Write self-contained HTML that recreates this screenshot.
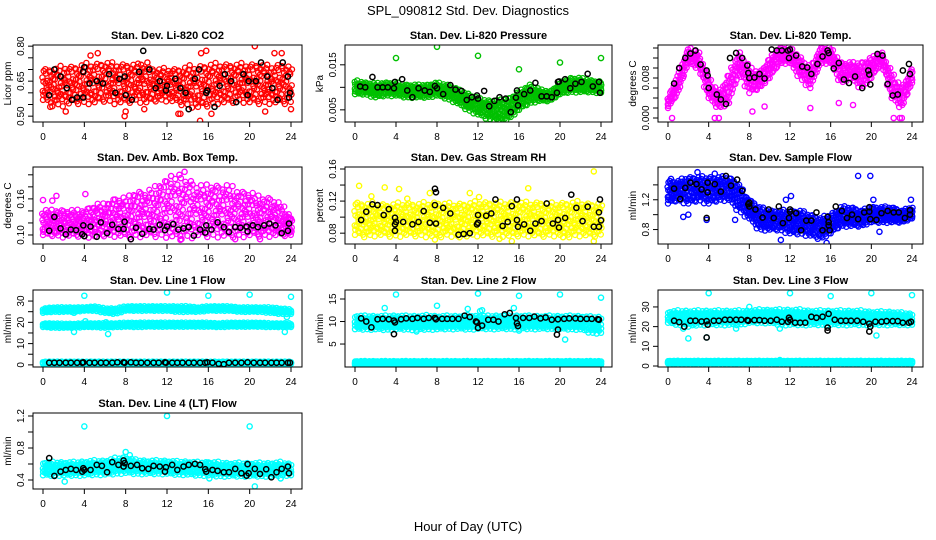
<!DOCTYPE html>
<html><head><meta charset="utf-8">
<style>
html,body{margin:0;padding:0;background:#fff;}
svg{display:block;font-family:"Liberation Sans",sans-serif;}
</style></head>
<body>
<svg id="chart" width="936" height="540" viewBox="0 0 936 540">
<rect width="936" height="540" fill="#fff"/>
<text x="468" y="15" text-anchor="middle" font-size="13">SPL_090812  Std. Dev. Diagnostics</text>
<text x="468" y="531" text-anchor="middle" font-size="13">Hour of Day (UTC)</text>
</svg>
<script>
const H=[0,1,2,3,4,5,6,7,8,9,10,11,12,13,14,15,16,17,18,19,20,21,22,23,24];
const xTicks=[0,4,8,12,16,20,24];

const co2Lo=[0.57,0.55,0.55,0.56,0.56,0.56,0.57,0.56,0.56,0.57,0.56,0.57,0.57,0.56,0.55,0.54,0.55,0.56,0.56,0.57,0.56,0.56,0.56,0.56,0.56];
const co2Hi=[0.70,0.70,0.71,0.71,0.72,0.72,0.73,0.72,0.72,0.72,0.71,0.70,0.70,0.70,0.71,0.71,0.72,0.72,0.72,0.72,0.72,0.72,0.71,0.72,0.71];
const co2Out=[[4.6,0.76],[5.3,0.77],[9.5,0.72],[10.1,0.73],[15.3,0.77],[15.8,0.78],[20.5,0.80],[22.4,0.77],[23.1,0.77],[7.9,0.50],[15.2,0.48],[13.3,0.51],[8,0.52],[9.8,0.53],[21.5,0.52],[24,0.53],[2.2,0.52],[0.7,0.54],[16.3,0.51],[13.1,0.51]];
const co2Black=[[0.6,0.59],[1.1,0.70],[1.7,0.67],[2.3,0.62],[2.8,0.57],[3.3,0.58],[3.9,0.58],[4.0,0.71],[3.9,0.69],[4.5,0.64],[5.2,0.65],[5.8,0.64],[6.4,0.68],[7.0,0.60],[7.4,0.66],[7.9,0.67],[8,0.59],[8.6,0.57],[9.3,0.69],[9.7,0.78],[10.3,0.70],[10.9,0.62],[11.3,0.65],[11.9,0.61],[12,0.63],[12.8,0.66],[13.3,0.62],[13.8,0.60],[14.1,0.53],[14.7,0.66],[15.1,0.70],[15.8,0.60],[15.9,0.61],[16.6,0.54],[17.1,0.63],[17.6,0.68],[18.2,0.65],[18.7,0.56],[19.4,0.68],[19.8,0.59],[19.9,0.65],[20.6,0.65],[21.1,0.73],[21.7,0.67],[22.2,0.62],[22.7,0.57],[23.2,0.73],[23.7,0.67],[23.8,0.58],[23.9,0.60]];

const presLo=[0.0085,0.0085,0.0078,0.0082,0.0082,0.0078,0.0078,0.0078,0.0082,0.0075,0.0065,0.0050,0.0040,0.0030,0.0025,0.0030,0.0050,0.0065,0.0070,0.0070,0.0085,0.0090,0.0090,0.0090,0.0088];
const presHi=[0.0115,0.0110,0.0108,0.0110,0.0110,0.0105,0.0105,0.0105,0.0110,0.0105,0.0095,0.0085,0.0075,0.0070,0.0070,0.0075,0.0090,0.0105,0.0095,0.0090,0.0110,0.0120,0.0120,0.0115,0.0112];
const presOut=[[4,0.0165],[8,0.019],[12,0.017],[16,0.014],[20,0.0155],[24,0.0165]];
const presBlack=[[0.5,0.0102],[1,0.0100],[1.7,0.0123],[2.2,0.0100],[2.7,0.0100],[3.2,0.0100],[3.8,0.0098],[3.9,0.0112],[4.6,0.0118],[5.1,0.0093],[5.6,0.0078],[6.2,0.0098],[6.8,0.0093],[7.3,0.0090],[7.8,0.0103],[8,0.0098],[8.6,0.0085],[9.3,0.0105],[9.8,0.0095],[10.4,0.0092],[10.9,0.0072],[11.4,0.0078],[11.9,0.0082],[12,0.0075],[12.6,0.0092],[13.1,0.0058],[13.6,0.0070],[14.1,0.0078],[14.7,0.0075],[15.2,0.0045],[15.7,0.0077],[15.8,0.0093],[15.9,0.0060],[16.5,0.0085],[17.1,0.0093],[17.6,0.0110],[18.2,0.0080],[18.7,0.0080],[19.2,0.0078],[19.7,0.0088],[19.8,0.0112],[19.9,0.0113],[20.5,0.0118],[21,0.0098],[21.5,0.0108],[22.1,0.0112],[22.7,0.0130],[23.2,0.0102],[23.8,0.0112],[23.9,0.0088]];

const tempLo=[0.002,0.005,0.011,0.010,0.004,0.002,0.003,0.009,0.005,0.006,0.008,0.011,0.011,0.008,0.006,0.011,0.011,0.007,0.008,0.006,0.008,0.011,0.004,0.002,0.007];
const tempHi=[0.004,0.009,0.014,0.013,0.008,0.005,0.009,0.013,0.010,0.009,0.012,0.014,0.014,0.012,0.010,0.014,0.014,0.011,0.011,0.011,0.012,0.013,0.009,0.006,0.010];
const tempOut=[[0.4,0],[4.6,0],[5.0,0],[22.2,0],[22.8,0],[23,0],[8.3,0.0013],[9.5,0.0023],[14,0.002],[16.8,0.003],[18.2,0.0026]];
const tempBlack=[[0.6,0.0069],[1.1,0.0100],[1.7,0.012],[2.2,0.0129],[2.7,0.0135],[3.2,0.0107],[3.8,0.0095],[3.9,0.0085],[4,0.006],[4.8,0.0047],[5.2,0.0037],[5.7,0.0028],[6.1,0.012],[6.7,0.013],[7.3,0.012],[7.8,0.0105],[7.9,0.009],[8,0.008],[8.5,0.0081],[9,0.0088],[9.5,0.0079],[10.2,0.0137],[10.7,0.0135],[11.2,0.0135],[11.8,0.0135],[11.9,0.012],[12,0.0137],[12.6,0.0125],[13.2,0.0103],[13.7,0.0101],[14.1,0.0088],[14.7,0.0108],[15.2,0.0123],[15.7,0.0135],[15.8,0.013],[16.3,0.0099],[16.8,0.011],[17.3,0.0077],[17.8,0.007],[18.4,0.0083],[19.1,0.006],[19.7,0.0095],[19.8,0.0087],[19.9,0.0067],[20.6,0.0128],[21.1,0.0125],[21.6,0.0068],[22.1,0.0045],[22.6,0.0047],[23.1,0.0095],[23.7,0.0108],[23.8,0.0088]];

const ambLo=[0.100,0.100,0.098,0.100,0.098,0.098,0.100,0.100,0.098,0.100,0.100,0.100,0.100,0.096,0.098,0.100,0.100,0.100,0.098,0.100,0.100,0.100,0.100,0.100,0.100];
const ambHi=[0.140,0.140,0.140,0.140,0.140,0.150,0.150,0.160,0.160,0.170,0.170,0.180,0.190,0.190,0.190,0.180,0.180,0.180,0.180,0.170,0.170,0.160,0.160,0.150,0.130];
const ambOut=[[13.7,0.205],[13.2,0.200],[12.4,0.198],[1.3,0.165],[4.1,0.168],[0,0.158],[0.9,0.157],[24,0.127],[8.5,0.093],[13.3,0.092],[18.6,0.093],[21,0.093]];
const ambBlack=[[0.6,0.107],[1.1,0.130],[1.7,0.111],[2.2,0.101],[2.7,0.109],[3.2,0.108],[3.8,0.101],[3.9,0.116],[4.0,0.098],[4.6,0.114],[5.2,0.097],[5.6,0.121],[6.2,0.103],[6.7,0.117],[7.3,0.110],[7.8,0.110],[7.9,0.122],[8.5,0.093],[9.0,0.112],[9.6,0.102],[10.3,0.110],[10.7,0.109],[11.3,0.117],[11.8,0.108],[12,0.114],[12.6,0.118],[13.1,0.109],[13.6,0.111],[14.1,0.113],[14.6,0.099],[15.2,0.109],[15.7,0.104],[15.8,0.116],[16.3,0.109],[16.9,0.121],[17.5,0.113],[18.0,0.105],[18.6,0.113],[19.1,0.112],[19.7,0.114],[19.8,0.106],[20.3,0.116],[20.8,0.113],[21.4,0.116],[21.9,0.119],[22.5,0.116],[23.1,0.103],[23.7,0.107],[23.8,0.119]];

const rhLo=[0.078,0.077,0.078,0.078,0.077,0.078,0.078,0.077,0.076,0.078,0.077,0.078,0.078,0.077,0.078,0.077,0.078,0.078,0.077,0.078,0.078,0.077,0.078,0.077,0.078];
const rhHi=[0.118,0.116,0.117,0.115,0.116,0.117,0.116,0.117,0.118,0.116,0.116,0.117,0.118,0.118,0.117,0.118,0.118,0.117,0.118,0.116,0.117,0.118,0.118,0.116,0.117];
const rhOut=[[0.4,0.139],[2.9,0.137],[4.3,0.135],[7.3,0.130],[11.2,0.130],[16.9,0.136],[23.3,0.157],[15.3,0.070],[23.3,0.070],[7.8,0.072],[10.2,0.075],[14.1,0.073],[20.3,0.075],[12.1,0.125],[5.1,0.123],[1.6,0.126]];
const rhBlack=[[0.6,0.0964],[1.1,0.1067],[1.7,0.116],[2.2,0.115],[2.8,0.1026],[3.3,0.110],[3.9,0.0993],[3.9,0.091],[3.9,0.083],[4,0.094],[4.7,0.094],[5.6,0.091],[6.2,0.094],[6.7,0.1075],[7.3,0.093],[7.8,0.1354],[7.9,0.131],[7.8,0.115],[7.9,0.092],[8.6,0.1116],[9.3,0.1046],[10.1,0.078],[10.6,0.079],[11.2,0.080],[11.9,0.091],[12,0.1026],[12,0.093],[12.8,0.1017],[13.3,0.1046],[13.7,0.122],[14.4,0.089],[14.9,0.094],[15.3,0.1137],[15.8,0.122],[15.8,0.0964],[15.9,0.088],[16.5,0.091],[17.1,0.083],[17.6,0.092],[18.2,0.095],[18.7,0.117],[19.3,0.092],[19.8,0.0964],[19.9,0.087],[20.5,0.099],[21.1,0.128],[21.6,0.1116],[22.2,0.095],[22.7,0.113],[23.3,0.088],[23.8,0.106],[23.8,0.088],[23.9,0.122],[24,0.096]];

const flowLo=[1.15,1.2,1.15,1.2,1.15,1.2,1.2,1.05,0.95,0.8,0.8,0.8,0.75,0.75,0.72,0.68,0.75,0.85,0.85,0.85,0.9,0.9,0.9,0.9,0.95];
const flowHi=[1.45,1.45,1.5,1.5,1.5,1.5,1.5,1.4,1.2,1.1,1.05,1.05,1.05,1.05,1.0,0.95,1.0,1.1,1.1,1.05,1.1,1.1,1.1,1.05,1.1];
const flowOut=[[18.7,1.52],[19.9,1.52],[12.1,1.25],[11.6,1.2],[0.3,1.48],[20.8,0.77],[23.9,1.2],[1.5,0.97],[2.0,1.0],[6.6,0.93],[15.6,0.62],[11.1,0.66],[20.2,1.2],[3.8,0.93],[2.9,1.57],[4.6,1.55]];
const flowBlack=[[0.6,1.35],[1.2,1.21],[1.7,1.36],[2.2,1.43],[2.8,1.41],[3.3,1.34],[3.9,1.43],[3.9,1.30],[3.8,0.955],[4.6,1.41],[5.2,1.31],[5.7,1.52],[6.2,1.39],[6.8,1.47],[7.3,1.32],[7.9,1.14],[8,1.16],[8,1.11],[8.6,1.07],[9.3,0.96],[9.9,1.07],[10.4,0.955],[10.9,1.11],[11.3,0.886],[11.9,0.955],[12,1.07],[12,1.04],[12.6,1.02],[13.1,0.79],[13.6,0.92],[14.1,0.92],[14.6,1.03],[15.2,0.79],[15.7,0.97],[15.8,0.90],[15.8,0.856],[15.9,0.79],[16.5,1.11],[17.1,1.05],[17.6,0.955],[18.1,1.0],[18.7,0.94],[19.3,1.03],[19.8,1.10],[19.8,1.04],[19.9,0.94],[20.5,0.93],[21,1.02],[21.6,1.05],[22.2,1.03],[22.7,1.03],[23.3,0.955],[23.8,1.06],[23.8,1.0]];

const l1aLo=[24.5,25.0,25.0,25.0,25.5,25.5,24.5,24.0,25.5,25.5,25.5,25.5,25.5,25.0,25.0,25.0,25.5,25.5,25.5,25.0,25.0,25.0,24.5,24.0,24.0];
const l1aHi=[26.5,27.0,27.0,27.0,27.0,27.5,26.5,26.5,27.5,27.5,27.5,27.5,27.5,27.5,27.5,27.0,27.5,27.5,27.5,27.0,27.0,27.0,27.0,26.5,26.0];
const l1bLo=[17.8,17.5,17.5,17.5,17.8,17.8,17.5,17.8,18.0,17.8,18.0,18.0,18.0,18.0,18.0,18.0,18.0,17.8,18.0,18.0,18.0,18.0,17.8,17.8,17.8];
const l1bHi=[19.5,19.5,19.3,19.3,19.5,19.5,19.5,19.5,19.8,19.8,19.8,19.8,19.8,19.8,19.8,19.8,19.8,19.5,19.8,19.8,19.8,19.8,19.5,19.5,19.5];
const l1cLo=[0.5,0.5,0.5,0.5,0.5,0.5,0.5,0.5,0.5,0.5,0.5,0.5,0.5,0.5,0.5,0.5,0.5,0.0,0.5,0.5,0.5,0.5,0.5,0.5,0.5];
const l1cHi=[1.5,1.5,1.5,1.5,1.5,1.5,1.5,1.5,1.5,1.5,1.5,1.5,1.5,1.5,1.5,1.5,1.5,1.5,1.5,1.5,1.5,1.5,1.5,1.5,1.5];
const l1Out=[[4,32.5],[12,34],[16,32.5],[20,33],[24,32],[3,15.5],[6.3,14.5],[23.4,15.5],[4.1,20.5],[6.1,20],[23.6,22.5],[3,24.5],[17,0],[17.4,0]];
const l1Black=[[0.6,1],[1.1,1],[1.6,1],[2.2,1],[2.7,1],[3.3,1],[3.8,1],[3.9,1.2],[4.5,1],[5,1],[5.6,1],[6.1,1],[6.7,1],[7.2,1.2],[7.8,1.2],[7.9,1],[8.5,1.2],[9,1],[9.5,1],[10.1,1],[10.7,1],[11.2,1],[11.8,1.2],[11.9,1],[12.5,1],[13,1],[13.5,1],[14.1,1],[14.6,1],[15.2,1],[15.7,1],[15.9,1.2],[16.4,1],[17,0.5],[17.5,0.3],[18,1],[18.6,1],[19.2,1],[19.8,1.2],[20.4,1],[21,1],[21.5,1],[22.1,1],[22.6,1],[23.1,1],[23.7,1],[23.9,1]];

const l2aLo=[8.3,8.3,8.3,8.2,8.3,8.3,8.2,8.3,8.3,8.4,8.4,8.3,8.4,8.4,8.4,8.4,8.4,8.4,8.4,8.4,8.4,8.3,8.3,7.5,7.5];
const l2aHi=[11.3,11.2,11.2,11.2,11.3,11.2,11.2,11.3,11.2,11.2,11.2,11.3,11.2,11.2,11.3,11.2,11.3,11.2,11.2,11.2,11.2,11.2,11.2,11.0,11.0];
const l2bLo=[0.4,0.4,0.4,0.4,0.4,0.4,0.4,0.4,0.4,0.4,0.4,0.4,0.4,0.4,0.4,0.4,0.4,0.4,0.4,0.4,0.4,0.4,0.4,0.4,0.4];
const l2bHi=[1.2,1.2,1.2,1.2,1.2,1.2,1.2,1.2,1.2,1.2,1.2,1.2,1.2,1.2,1.2,1.2,1.2,1.2,1.2,1.2,1.2,1.2,1.2,1.2,1.2];
const l2Out=[[2.9,13],[4,16],[8,13.5],[12,16.2],[16,15.7],[20,16],[24,15.3],[20.5,6],[11,12.8],[12.2,12.3],[15.5,13],[12.4,12.5],[16,8],[6,7.8]];
const l2Black=[[0.6,10.7],[1.1,10.0],[1.6,8.7],[2.2,10.5],[2.7,10.6],[3.3,10.5],[3.8,10.2],[3.9,9.8],[3.8,7.2],[4.5,10.5],[5,10.7],[5.6,10.6],[6.1,10.8],[6.7,10.6],[7.2,10.8],[7.8,10.8],[7.9,10.5],[8.5,10.6],[9,10.6],[9.5,10.6],[10.1,10.6],[10.7,11.3],[11.2,11.0],[11.8,10.0],[11.9,9.8],[12,8.6],[12.4,9.1],[13,10.4],[13.5,10.4],[14,10.0],[14.6,11.6],[15.1,11.9],[15.7,10.8],[15.8,9.6],[15.9,9.0],[16.4,10.8],[17,10.8],[17.5,11.1],[18.1,10.7],[18.6,10.9],[19.2,10.4],[19.8,10.5],[19.8,8.2],[19.7,7.1],[20.4,10.6],[20.9,10.7],[21.5,10.7],[22,10.6],[22.6,10.6],[23.1,10.6],[23.7,10.5],[23.8,10.4]];

const l3aLo=[22,21,20,21,21,21,21,21,22,22,22,21,21,21,21,21,21,21,21,21,21,21,21,21,21];
const l3aHi=[27.5,28,28,28,28,28,28,28,28,28.5,28.5,28.5,28.5,28.5,28,28,28,28,28,28,27.5,27.5,27.5,27,26.5];
const l3bLo=[1.3,1.3,1.3,1.3,1.3,1.3,1.3,1.3,1.3,1.3,1.3,1.3,1.3,1.3,1.3,1.3,1.3,1.3,1.3,1.3,1.3,1.3,1.3,1.3,1.3];
const l3bHi=[2.6,2.6,2.6,2.6,2.6,2.6,2.6,2.6,2.6,2.6,2.6,2.6,2.6,2.6,2.6,2.6,2.6,2.6,2.6,2.6,2.6,2.6,2.6,2.6,2.6];
const l3Out=[[4,37],[12,37],[16,35.5],[20,37],[24,36],[8,30],[2,14],[3.8,14.5],[20.5,15.5],[1.5,19],[6.7,19],[11,19],[15.6,0],[11,3]];
const l3Black=[[0.6,23],[1.1,22.3],[1.6,20],[2.2,23],[2.7,23],[3.3,22.6],[3.8,22.8],[3.9,21],[3.8,14.5],[4.5,23],[5,23],[5.6,23.5],[6.1,23.5],[6.7,23.5],[7.2,23.5],[7.8,23.3],[7.9,23],[8.5,23.3],[9,23.3],[9.5,23],[10.1,23],[10.7,23.5],[11.2,22.5],[11.8,22.5],[11.9,24.5],[12,23.5],[12.5,22],[13,22],[13.5,22],[14.1,25],[14.6,24.5],[15.2,25],[15.7,19.5],[15.7,18],[15.8,26.5],[16.4,23.5],[17,23],[17.5,23],[18,23],[18.6,23],[19.2,22.5],[19.8,21.5],[19.8,17.5],[19.9,20],[20.4,22.5],[21,22.5],[21.5,22.8],[22.1,22.8],[22.6,22.8],[23.1,22],[23.7,22],[23.9,22.5]];

const l4Lo=[0.46,0.46,0.46,0.46,0.46,0.47,0.47,0.48,0.49,0.48,0.48,0.48,0.48,0.47,0.47,0.46,0.46,0.45,0.45,0.45,0.45,0.45,0.45,0.46,0.46];
const l4Hi=[0.62,0.62,0.62,0.62,0.63,0.64,0.64,0.67,0.68,0.65,0.64,0.64,0.64,0.63,0.63,0.62,0.62,0.62,0.61,0.61,0.61,0.61,0.61,0.62,0.60];
const l4Out=[[4,1.07],[12,1.2],[20,1.07],[8,0.75],[8.4,0.71],[2.1,0.38],[16.1,0.42],[20.5,0.32],[23,0.42],[16,0.62]];
const l4Black=[[0.6,0.674],[1.1,0.451],[1.7,0.505],[2.2,0.526],[2.7,0.539],[3.2,0.526],[3.8,0.505],[3.9,0.547],[4,0.526],[4.6,0.526],[5.2,0.589],[5.7,0.577],[6.2,0.497],[6.7,0.623],[7.3,0.589],[7.8,0.644],[7.9,0.611],[7.8,0.568],[8.5,0.577],[9.1,0.589],[9.6,0.547],[10.2,0.539],[10.7,0.577],[11.3,0.568],[11.8,0.505],[11.9,0.560],[12.5,0.589],[13,0.526],[13.6,0.568],[14.1,0.589],[14.7,0.602],[15.2,0.589],[15.7,0.535],[15.8,0.505],[16.4,0.526],[16.9,0.514],[17.5,0.497],[18,0.497],[18.6,0.539],[19.2,0.484],[19.7,0.455],[19.8,0.598],[19.9,0.484],[20.5,0.539],[21,0.476],[21.6,0.535],[22.1,0.434],[22.6,0.497],[23.1,0.539],[23.7,0.568],[23.8,0.484]];

const NS="http://www.w3.org/2000/svg";
const svg=document.getElementById('chart');
function mk(tag,attrs,parent){const e=document.createElementNS(NS,tag);for(const k in attrs)e.setAttribute(k,attrs[k]);(parent||svg).appendChild(e);return e;}

const colL=[33,345,658], colR=[302,612,923];
const rowT=[45,167,290,413], rowB=[122,244,367,489];

const panels=[
 {key:'co2',title:'Stan. Dev. Li-820 CO2',ylab:'Licor ppm',c:0,r:0,ymin:0.475,ymax:0.805,ticks:[0.50,0.55,0.60,0.65,0.70,0.75,0.80],labels:['0.50','0.65','0.80'],labVals:[0.50,0.65,0.80],color:'#ff0000',bands:[[co2Lo,co2Hi]],out:co2Out,black:co2Black,op:0.12,rows:5,step:0.25,jit:1},
 {key:'pressure',title:'Stan. Dev. Li-820 Pressure',ylab:'kPa',c:1,r:0,ymin:0.0023,ymax:0.0194,ticks:[0.005,0.010,0.015],labels:['0.005','0.015'],labVals:[0.005,0.015],color:'#00c000',bands:[[presLo,presHi]],out:presOut,black:presBlack,op:0.6,rows:4,step:0.2,jit:0.6},
 {key:'li820-temp',title:'Stan. Dev. Li-820 Temp.',ylab:'degrees C',c:2,r:0,ymin:-0.0008,ymax:0.0146,ticks:[0,0.002,0.004,0.006,0.008,0.010,0.012,0.014],labels:['0.000','0.008'],labVals:[0,0.008],color:'#ff00ff',bands:[[tempLo,tempHi]],out:tempOut,black:tempBlack,op:0.45,rows:4,step:0.2,jit:0.8},
 {key:'amb-box-temp',title:'Stan. Dev. Amb. Box Temp.',ylab:'degrees C',c:0,r:1,ymin:0.085,ymax:0.213,ticks:[0.10,0.12,0.14,0.16,0.18,0.20],labels:['0.10','0.16'],labVals:[0.10,0.16],color:'#ff00ff',bands:[[ambLo,ambHi]],out:ambOut,black:ambBlack,op:0.1,rows:6,step:0.25,jit:1},
 {key:'gas-stream-rh',title:'Stan. Dev. Gas Stream RH',ylab:'percent',c:1,r:1,ymin:0.0665,ymax:0.1625,ticks:[0.08,0.10,0.12,0.14,0.16],labels:['0.08','0.12','0.16'],labVals:[0.08,0.12,0.16],color:'#ffff00',bands:[[rhLo,rhHi]],out:rhOut,black:rhBlack,op:0.25,rows:5,step:0.25,jit:1},
 {key:'sample-flow',title:'Stan. Dev. Sample Flow',ylab:'ml/min',c:2,r:1,ymin:0.606,ymax:1.64,ticks:[0.8,1.0,1.2,1.4],labels:['0.8','1.2'],labVals:[0.8,1.2],color:'#0000ff',bands:[[flowLo,flowHi]],out:flowOut,black:flowBlack,op:0.45,rows:5,step:0.2,jit:0.9},
 {key:'line1-flow',title:'Stan. Dev. Line 1 Flow',ylab:'ml/min',c:0,r:2,ymin:-1,ymax:35.2,ticks:[0,5,10,15,20,25,30],labels:['0','10','20','30'],labVals:[0,10,20,30],color:'#00ffff',bands:[[l1aLo,l1aHi],[l1bLo,l1bHi],[l1cLo,l1cHi]],out:l1Out,black:l1Black,op:0.9,rows:2,step:0.2,jit:0.3},
 {key:'line2-flow',title:'Stan. Dev. Line 2 Flow',ylab:'ml/min',c:1,r:2,ymin:-0.1,ymax:17,ticks:[5,10,15],labels:['5','10','15'],labVals:[5,10,15],color:'#00ffff',bands:[[l2aLo,l2aHi],[l2bLo,l2bHi]],out:l2Out,black:l2Black,op:0.85,rows:3,step:0.2,jit:0.4},
 {key:'line3-flow',title:'Stan. Dev. Line 3 Flow',ylab:'ml/min',c:2,r:2,ymin:-0.5,ymax:38.6,ticks:[0,10,20,30],labels:['0','10','20','30'],labVals:[0,10,20,30],color:'#00ffff',bands:[[l3aLo,l3aHi],[l3bLo,l3bHi]],out:l3Out,black:l3Black,op:0.85,rows:3,step:0.2,jit:0.4},
 {key:'line4-flow',title:'Stan. Dev. Line 4 (LT) Flow',ylab:'ml/min',c:0,r:3,ymin:0.2875,ymax:1.2375,ticks:[0.4,0.6,0.8,1.0,1.2],labels:['0.4','0.8','1.2'],labVals:[0.4,0.8,1.2],color:'#00ffff',bands:[[l4Lo,l4Hi]],out:l4Out,black:l4Black,op:0.75,rows:3,step:0.2,jit:0.5}
];

function interp(arr,t){const i=Math.min(Math.floor(t),23);const f=t-i;return arr[i]*(1-f)+arr[i+1]*f;}
// deterministic visual texture offsets (rendering only, not data)
const jx=[0,0.37,-0.21,0.12,-0.4,0.28,-0.09,0.45,-0.33,0.18];
const jy=[0,0.31,-0.27,0.14,-0.42,0.22,0.4,-0.12,0.05,-0.36];

panels.forEach(p=>{
  const L=colL[p.c],R=colR[p.c],T=rowT[p.r],B=rowB[p.r];
  const x0=L+10,x1=R-11;
  const sx=h=>x0+(h/24)*(x1-x0);
  const sy=v=>B-(v-p.ymin)/(p.ymax-p.ymin)*(B-T);
  const g=mk('g',{});
  
  
  const clipId='clip-'+p.key;
  const cp=mk('clipPath',{id:clipId},g);mk('rect',{x:L,y:T,width:R-L,height:B-T},cp);
  const marks=mk('g',{'clip-path':'url(#'+clipId+')'},g);
  
  
  p.bands.forEach((b,bi)=>{
    const lo=b[0],hi=b[1];
    let pts=H.map((h,i)=>sx(h)+','+sy(hi[i]));
    pts=pts.concat(H.slice().reverse().map((h,j)=>{const i=24-j;return sx(h)+','+sy(lo[i]);}));
    const poly=mk('polygon',{points:pts.join(' '),fill:p.color,'fill-opacity':p.op,stroke:'none'},marks);
    
    
    let idx=0;
    for(let t=0;t<=24.001;t+=p.step){
      const tt=Math.min(t,24);
      const l=interp(lo,tt),hh=interp(hi,tt);
      for(let k=0;k<=p.rows;k++){
        const n=(idx*3+k*7)%10;
        let f=(k+((idx%2)?0.5:0))/(p.rows+0.5)+jy[n]*p.jit/(p.rows+0.5);
        f=Math.max(-0.05,Math.min(1.05,f));
        const xo=jx[(idx+k*3)%10]*p.step*p.jit;
        mk('circle',{cx:sx(tt+xo),cy:sy(l+(hh-l)*f),r:2.6,fill:'none',stroke:p.color,'stroke-width':1.3},marks);
      }
      idx++;
    }
  });
  p.out.forEach(d=>{
    const c=mk('circle',{cx:sx(d[0]),cy:sy(d[1]),r:2.6,fill:'none',stroke:p.color,'stroke-width':1.4},marks);
    
    
  });
  p.black.forEach(d=>{
    const c=mk('circle',{cx:sx(d[0]),cy:sy(d[1]),r:2.6,fill:'none',stroke:'#000','stroke-width':1.5},marks);
    
    
  });
  const box=mk('rect',{x:L,y:T,width:R-L,height:B-T,fill:'none',stroke:'#000','stroke-width':1},g);
  
  
  const t=mk('text',{x:(L+R)/2,y:T-6,'text-anchor':'middle','font-size':11,'font-weight':'bold'},g);
  t.textContent=p.title;
  
  
  mk('line',{x1:sx(0),x2:sx(24),y1:B,y2:B,stroke:'#000'},g);
  xTicks.forEach(h=>{
    mk('line',{x1:sx(h),x2:sx(h),y1:B,y2:B+5,stroke:'#000'},g);
    const tx=mk('text',{x:sx(h),y:B+18,'text-anchor':'middle','font-size':10},g);
    tx.textContent=h;
    
    
  });
  p.ticks.forEach(v=>{mk('line',{x1:L-5,x2:L,y1:sy(v),y2:sy(v),stroke:'#000'},g);});
  mk('line',{x1:L,x2:L,y1:sy(p.ticks[0]),y2:sy(p.ticks[p.ticks.length-1]),stroke:'#000'},g);
  p.labVals.forEach((v,i)=>{
    const yy=sy(v);
    const tx=mk('text',{x:L-9,y:yy,'text-anchor':'middle','font-size':10,transform:'rotate(-90 '+(L-9)+' '+yy+')'},g);
    tx.textContent=p.labels[i];
    
    
  });
  const ym=(T+B)/2;
  const yl=mk('text',{x:L-22,y:ym,'text-anchor':'middle','font-size':10,transform:'rotate(-90 '+(L-22)+' '+ym+')'},g);
  yl.textContent=p.ylab;
  
  
});
</script>
</body></html>
